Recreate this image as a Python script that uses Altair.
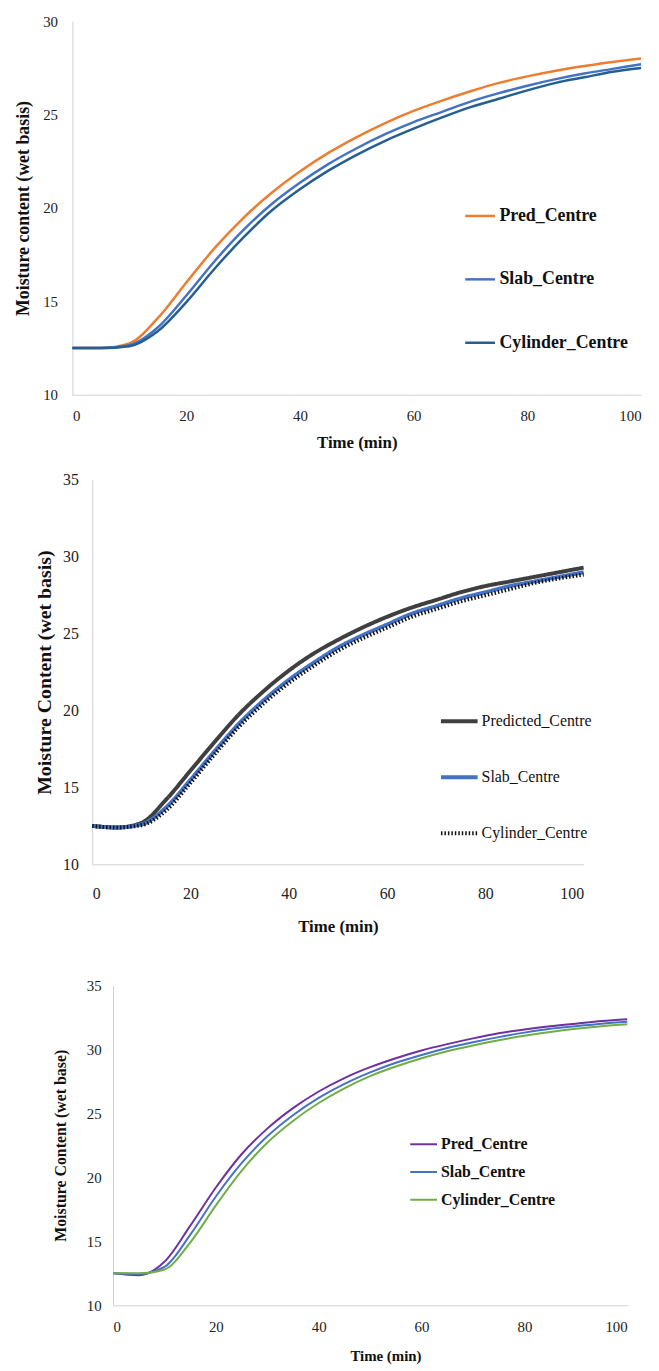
import altair as alt
import pandas as pd

FONT = "Liberation Serif"

time_min = [0, 5, 10, 15, 20, 25, 30, 35, 40, 45, 50, 55, 60, 65, 70, 75, 80, 85, 90, 95, 100]

# Panel 1
p1_names = ["Pred_Centre", "Slab_Centre", "Cylinder_Centre"]
p1_pred = [12.5, 12.5, 12.75, 14.1, 16.0, 17.85, 19.45, 20.8, 21.95, 22.95, 23.8, 24.55, 25.2, 25.75, 26.25, 26.7, 27.05, 27.35, 27.6, 27.82, 28.0]
p1_slab = [12.5, 12.5, 12.65, 13.6, 15.3, 17.15, 18.8, 20.2, 21.35, 22.35, 23.2, 23.95, 24.6, 25.15, 25.7, 26.15, 26.55, 26.9, 27.2, 27.45, 27.7]
p1_cyl = [12.5, 12.5, 12.6, 13.4, 14.95, 16.75, 18.4, 19.85, 21.0, 22.0, 22.85, 23.6, 24.25, 24.85, 25.4, 25.85, 26.3, 26.7, 27.0, 27.3, 27.5]
p1_colors = ["#ED7D31", "#4472C4", "#255E91"]

# Panel 2
p2_names = ["Predicted_Centre", "Slab_Centre", "Cylinder_Centre"]
p2_pred = [12.5, 12.4, 12.7, 14.2, 16.1, 18.0, 19.8, 21.3, 22.6, 23.7, 24.6, 25.4, 26.1, 26.7, 27.2, 27.7, 28.1, 28.4, 28.7, 29.0, 29.3]
p2_slab = [12.5, 12.4, 12.6, 13.7, 15.5, 17.4, 19.2, 20.7, 22.0, 23.1, 24.1, 24.9, 25.6, 26.3, 26.8, 27.3, 27.7, 28.1, 28.4, 28.7, 29.0]
p2_cyl = [12.5, 12.4, 12.55, 13.5, 15.3, 17.2, 19.0, 20.5, 21.8, 22.9, 23.9, 24.7, 25.4, 26.1, 26.6, 27.1, 27.5, 27.9, 28.3, 28.6, 28.85]
p2_colors = ["#3F3F3F", "#4472C4", "#111111"]

# Panel 3
p3_names = ["Pred_Centre", "Slab_Centre", "Cylinder_Centre"]
p3_pred = [12.5, 12.35, 13.4, 16.2, 19.2, 21.8, 23.8, 25.4, 26.7, 27.75, 28.6, 29.3, 29.9, 30.4, 30.85, 31.25, 31.55, 31.8, 32.0, 32.2, 32.35]
p3_slab = [12.5, 12.45, 13.0, 15.5, 18.5, 21.1, 23.2, 24.85, 26.2, 27.3, 28.2, 28.95, 29.55, 30.1, 30.55, 30.95, 31.3, 31.6, 31.8, 32.0, 32.15]
p3_cyl = [12.5, 12.5, 12.8, 14.9, 17.8, 20.5, 22.7, 24.4, 25.8, 26.95, 27.9, 28.65, 29.3, 29.85, 30.3, 30.7, 31.05, 31.35, 31.6, 31.8, 31.95]
p3_colors = ["#7030A0", "#4472C4", "#70AD47"]

x_ticks = [0, 20, 40, 60, 80, 100]


def make_df(names, series):
    rows = []
    for n, vals in zip(names, series):
        for t, v in zip(time_min, vals):
            rows.append({"t": t, "v": v, "series": n})
    return pd.DataFrame(rows)


def axis_common(**kw):
    base = dict(grid=False, ticks=False, tickSize=0, domainColor="#D0D0D0", domainWidth=1,
                labelFont=FONT, labelColor="#222222", titleFont=FONT, titleColor="#111111",
                titleFontWeight="bold")
    base.update(kw)
    return alt.Axis(**base)


# ---------- Panel 1 ----------
W1, H1 = 574, 377
leg1 = alt.Legend(title=None, orient="none", legendX=395, legendY=180, symbolType="stroke",
                  symbolSize=900, symbolStrokeWidth=2.5, rowPadding=38, labelOffset=3,
                  labelFont=FONT, labelFontSize=18, labelFontWeight="bold", labelColor="#111111",
                  labelLimit=300, padding=0)
p1 = alt.Chart(make_df(p1_names, [p1_pred, p1_slab, p1_cyl])).mark_line(
    interpolate="monotone", strokeWidth=2.5
).encode(
    x=alt.X("t:Q", scale=alt.Scale(domain=[0, 100], nice=False, zero=False),
            axis=axis_common(values=x_ticks, title="Time (min)", labelFontSize=15, labelPadding=14,
                             titleFontSize=17, titlePadding=11)),
    y=alt.Y("v:Q", scale=alt.Scale(domain=[10, 30], nice=False, zero=False),
            axis=axis_common(values=[10, 15, 20, 25, 30], title="Moisture content (wet basis)",
                             labelFontSize=15, labelPadding=15, titleFontSize=18, titlePadding=10)),
    color=alt.Color("series:N", scale=alt.Scale(domain=p1_names, range=p1_colors), legend=leg1),
    order=alt.Order("t:Q"),
).properties(width=W1, height=H1)

# ---------- Panel 2 ----------
o2_gap = 30
W2, H2 = 516, 388 + o2_gap
leg2 = alt.Legend(title=None, orient="none", legendX=370, legendY=253, symbolType="stroke",
                  symbolSize=1369, rowPadding=27.5, labelOffset=2,
                  labelFont=FONT, labelFontSize=16, labelFontWeight="normal", labelColor="#111111",
                  labelLimit=300, padding=0)
p2 = alt.Chart(make_df(p2_names, [p2_pred, p2_slab, p2_cyl])).mark_line(
    interpolate="monotone"
).encode(
    x=alt.X("t:Q", scale=alt.Scale(domain=[0, 100], range=[20, W2], nice=False, zero=False),
            axis=axis_common(values=x_ticks, title="Time (min)", labelFontSize=16, labelPadding=21,
                             titleFontSize=17, titlePadding=18)),
    y=alt.Y("v:Q", scale=alt.Scale(domain=[10, 35], range=[H2, o2_gap], nice=False, zero=False),
            axis=axis_common(values=[10, 15, 20, 25, 30, 35], title="Moisture Content (wet basis)",
                             labelFontSize=16, labelPadding=14, titleFontSize=20, titlePadding=8,
                             offset=-20)),
    color=alt.Color("series:N", scale=alt.Scale(domain=p2_names, range=p2_colors), legend=leg2),
    strokeDash=alt.StrokeDash("series:N", scale=alt.Scale(domain=p2_names, range=[[1, 0], [1, 0], [1.5, 2]]),
                              legend=leg2),
    strokeWidth=alt.StrokeWidth("series:N", scale=alt.Scale(domain=p2_names, range=[4, 4, 2.5]),
                                legend=leg2),
    order=alt.Order("t:Q"),
).properties(width=W2, height=H2)

# ---------- Panel 3 ----------
o3_gap = 51
W3, H3 = 560, 323 + o3_gap
leg3 = alt.Legend(title=None, orient="none", legendX=340, legendY=197, symbolType="stroke",
                  symbolSize=729, symbolStrokeWidth=2, rowPadding=5, labelOffset=3,
                  labelFont=FONT, labelFontSize=16, labelFontWeight="bold", labelColor="#111111",
                  labelLimit=300, padding=0)
p3 = alt.Chart(make_df(p3_names, [p3_pred, p3_slab, p3_cyl])).mark_line(
    interpolate="monotone", strokeWidth=2
).encode(
    x=alt.X("t:Q", scale=alt.Scale(domain=[0, 100], range=[41, W3], nice=False, zero=False),
            axis=axis_common(values=x_ticks, title="Time (min)", labelFontSize=15, labelPadding=14,
                             titleFontSize=15, titlePadding=15, titleX=316)),
    y=alt.Y("v:Q", scale=alt.Scale(domain=[10, 35], range=[H3, o3_gap], nice=False, zero=False),
            axis=axis_common(values=[10, 15, 20, 25, 30, 35], title="Moisture Content (wet base)",
                             labelFontSize=15, labelPadding=12, titleFontSize=16, titlePadding=18,
                             offset=-41)),
    color=alt.Color("series:N", scale=alt.Scale(domain=p3_names, range=p3_colors), legend=leg3),
    order=alt.Order("t:Q"),
).properties(width=W3, height=H3)

chart = alt.vconcat(p1, p2, p3, spacing=0).resolve_scale(
    color="independent", strokeDash="independent", strokeWidth="independent"
).resolve_legend(
    color="independent", strokeDash="independent", strokeWidth="independent"
).properties(
    padding={"left": 7, "top": 0, "right": 5, "bottom": 5},
    background="white",
).configure(font=FONT).configure_view(strokeOpacity=0, strokeWidth=0)

chart.save("out.html", embed_options={"renderer": "svg", "actions": False})
